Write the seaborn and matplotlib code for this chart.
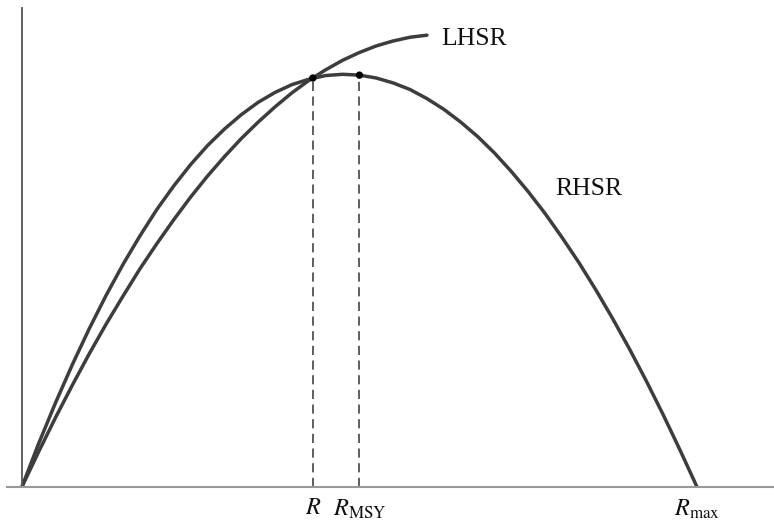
import matplotlib

matplotlib.use("Agg")

import matplotlib.pyplot as plt
import seaborn as sns

# harvest as a share of the maximum (R_max = 1)
r_grid = [0.0, 0.025, 0.05, 0.075, 0.1, 0.125, 0.15, 0.175, 0.2, 0.225,
          0.25, 0.275, 0.3, 0.325, 0.35, 0.375, 0.4, 0.425, 0.45, 0.475,
          0.5, 0.525, 0.55, 0.575, 0.6, 0.625, 0.65, 0.675, 0.7, 0.725,
          0.75, 0.775, 0.8, 0.825, 0.85, 0.875, 0.9, 0.925, 0.95, 0.975, 1.0]
rhsr = [0.0, 0.106, 0.205, 0.298, 0.385, 0.466, 0.541, 0.610, 0.674, 0.731,
        0.783, 0.829, 0.869, 0.904, 0.934, 0.958, 0.977, 0.990, 0.999, 1.002,
        1.000, 0.993, 0.981, 0.965, 0.943, 0.917, 0.886, 0.851, 0.811, 0.766,
        0.717, 0.664, 0.606, 0.545, 0.479, 0.409, 0.335, 0.257, 0.175, 0.089, 0.0]

lhsr_r = [0.0, 0.025, 0.05, 0.075, 0.1, 0.125, 0.15, 0.175, 0.2, 0.225,
          0.25, 0.275, 0.3, 0.325, 0.35, 0.375, 0.4, 0.425, 0.45, 0.475,
          0.5, 0.525, 0.55, 0.575, 0.6]
lhsr = [0.0, 0.086, 0.169, 0.248, 0.324, 0.396, 0.464, 0.530, 0.591, 0.649,
        0.704, 0.755, 0.802, 0.846, 0.886, 0.923, 0.957, 0.987, 1.013, 1.036,
        1.055, 1.071, 1.083, 1.092, 1.097]

# marked points: R (crossing), R_MSY and R_max
mark_r = [0.431, 0.5]
mark_h = [0.993, 1.000]
tick_pos = [0.431, 0.5, 1.0]
tick_labels = [r"$R$", r"$R_{\mathrm{MSY}}$", r"$R_{\max}$"]

sns.set_style("white")
plt.rcParams["font.family"] = ["Liberation Serif", "DejaVu Serif"]
plt.rcParams["mathtext.fontset"] = "stix"

fig = plt.figure(figsize=(7.74, 5.23), dpi=100)
ax = fig.add_axes([7 / 774, 36 / 523, 767 / 774, 479 / 523])

curve_col = "#3d3d3d"
sns.lineplot(x=r_grid, y=rhsr, ax=ax, color=curve_col, linewidth=2.5, sort=False)
sns.lineplot(x=lhsr_r, y=lhsr, ax=ax, color=curve_col, linewidth=2.5, sort=False)

ax.vlines(mark_r, 0, mark_h, colors="#333333", linewidth=1.1,
          linestyles=(0, (6, 3.6)))
sns.scatterplot(x=mark_r, y=mark_h, ax=ax, color="black", s=28,
                edgecolor="none", zorder=5)

ax.text(0.621, 1.088, "LHSR", fontsize=18.5, va="center", ha="left", color="#111111")
ax.text(0.790, 0.723, "RHSR", fontsize=18.5, va="center", ha="left", color="#111111")

ax.set_xlim(-0.022, 1.114)
ax.set_ylim(0, 1.163)
ax.set_xticks(tick_pos)
ax.set_xticklabels(tick_labels, fontsize=17.5)
ax.set_yticks([])
ax.tick_params(axis="x", length=0, pad=8, colors="#111111")

for side in ["top", "right"]:
    ax.spines[side].set_visible(False)
ax.spines["left"].set_position(("data", 0))
ax.spines["left"].set_color("#555555")
ax.spines["left"].set_linewidth(1.3)
ax.spines["bottom"].set_color("#999999")
ax.spines["bottom"].set_linewidth(1.5)

fig.savefig("out.png", dpi=100)
